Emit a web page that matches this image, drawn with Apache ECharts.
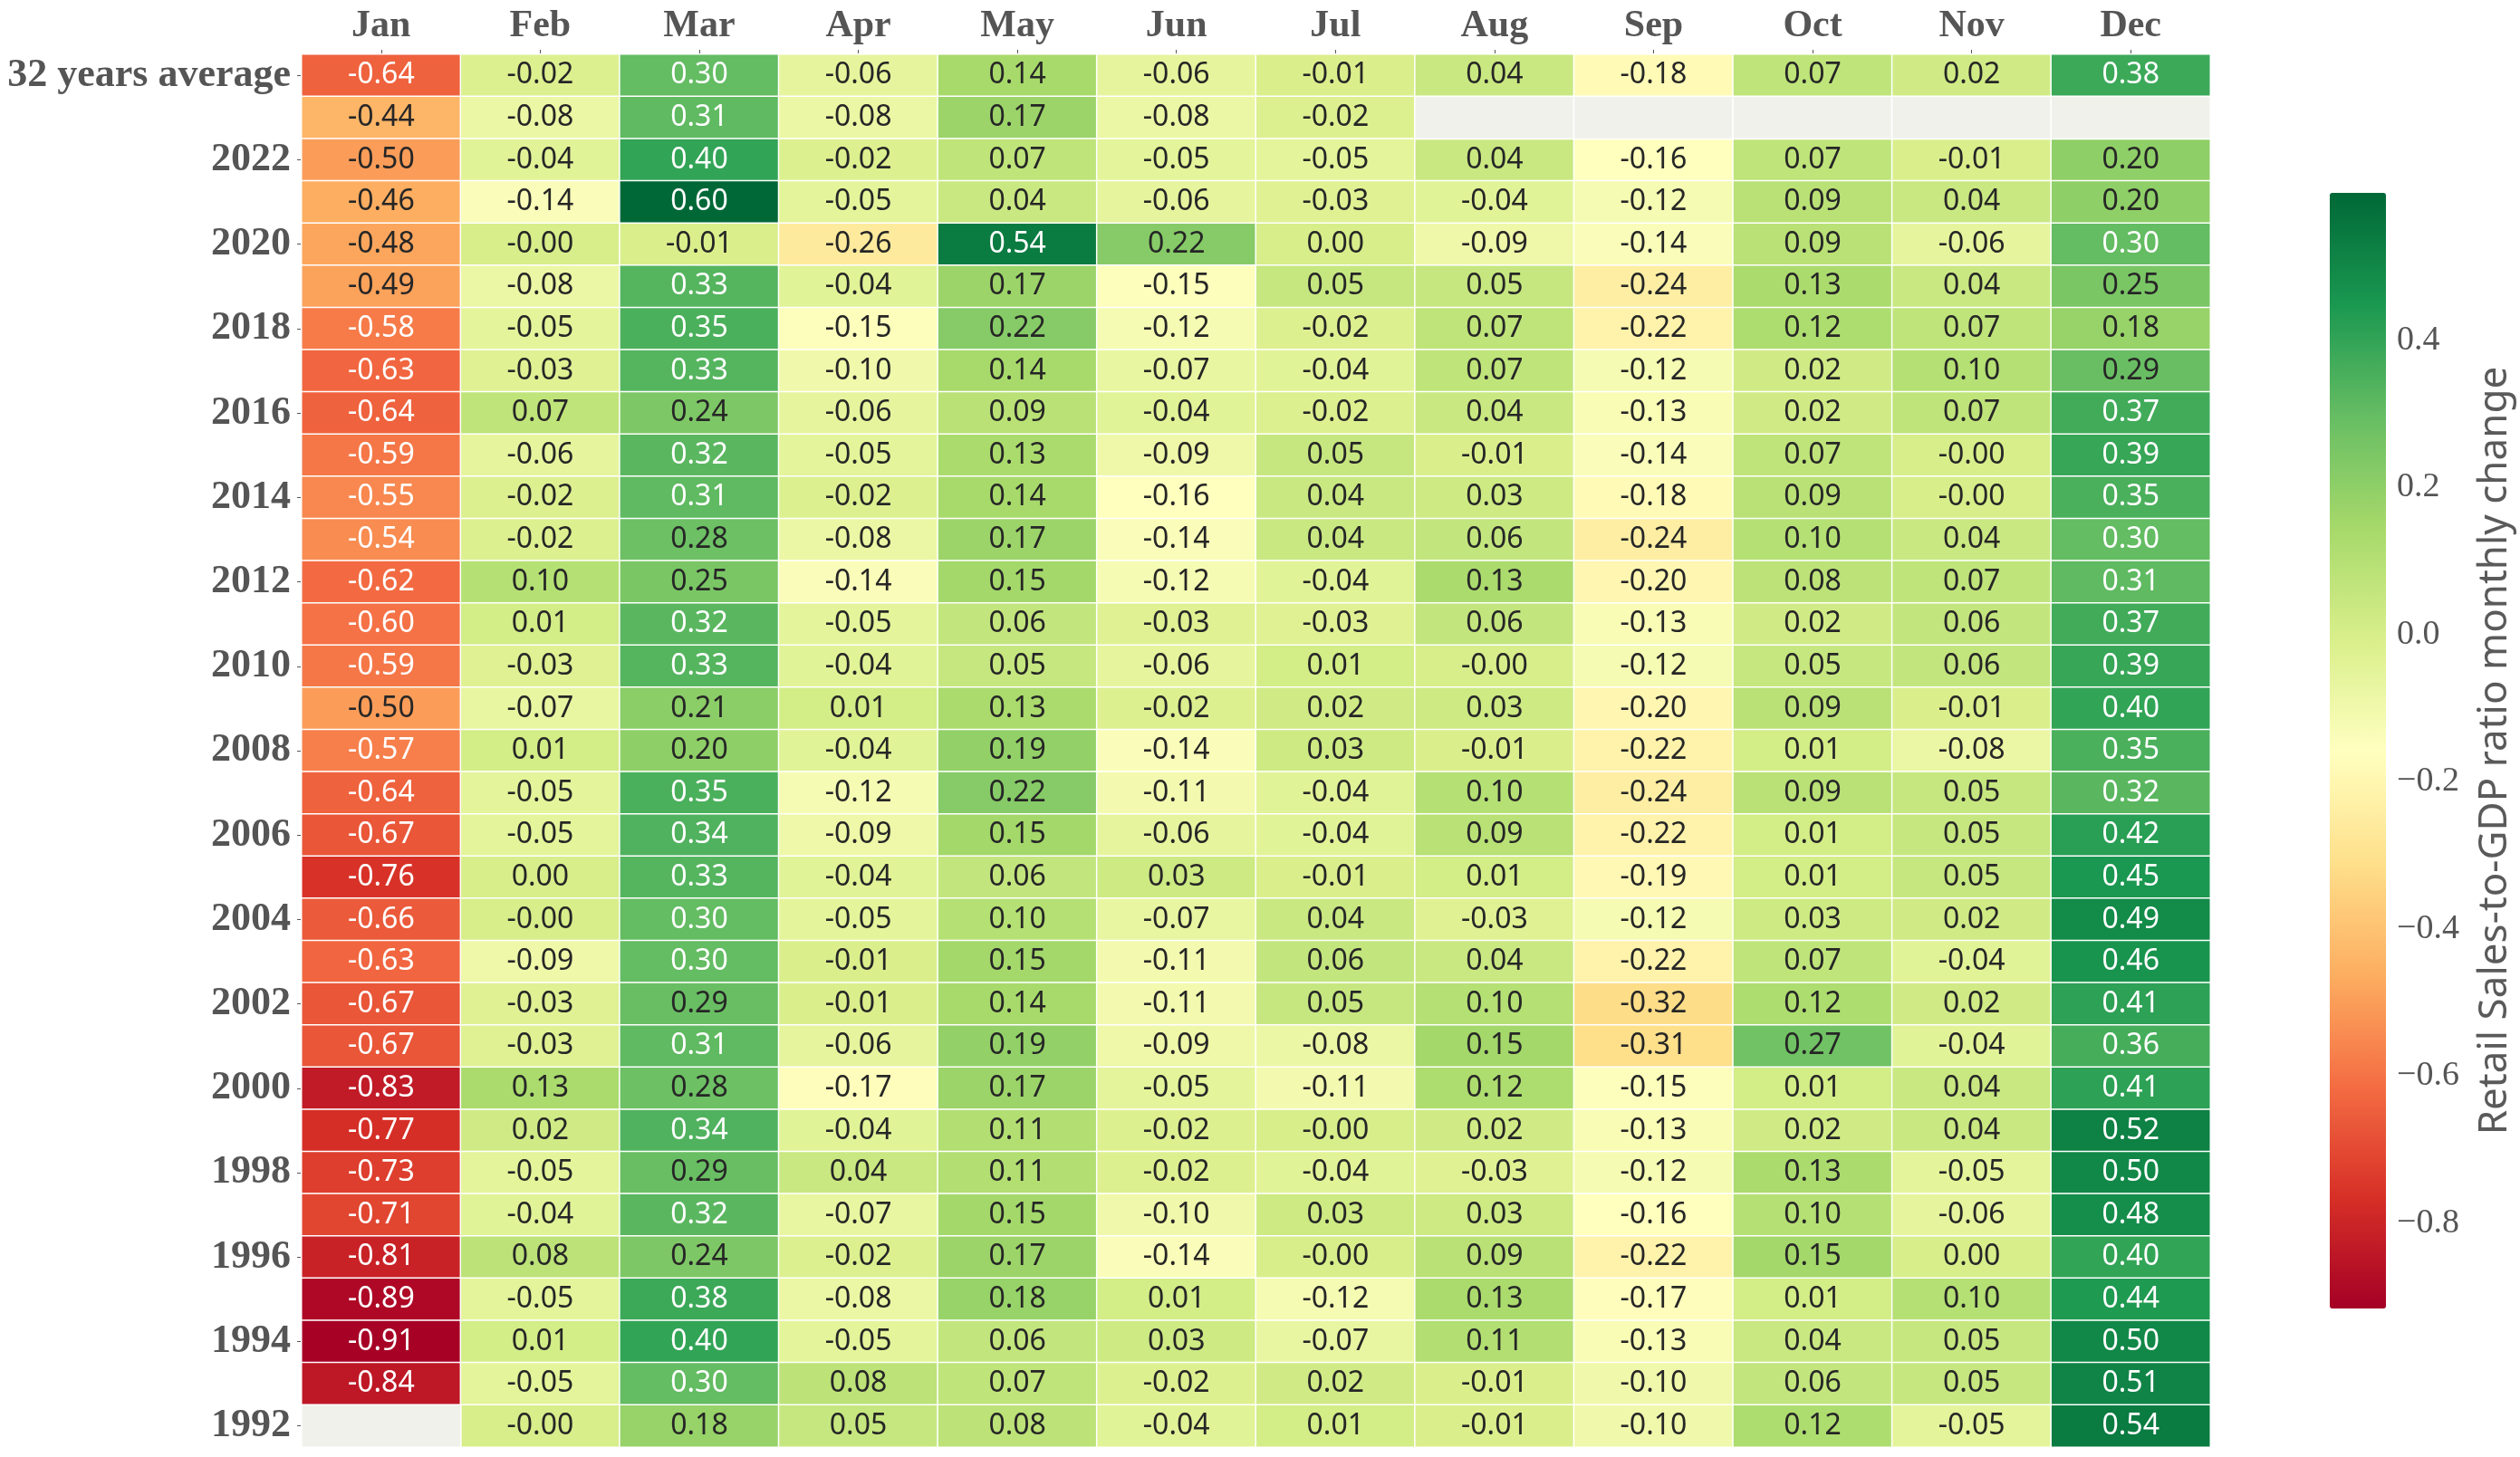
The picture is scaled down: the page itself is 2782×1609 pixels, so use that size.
<!DOCTYPE html>
<html><head><meta charset="utf-8">
<script src="https://cdn.jsdelivr.net/npm/echarts@6/dist/echarts.min.js"></script>
<style>html,body{margin:0;padding:0;background:#fff}#c{width:2782px;height:1609px}</style>
</head><body><div id="c"></div><script>
const months = ['Jan','Feb','Mar','Apr','May','Jun','Jul','Aug','Sep','Oct','Nov','Dec'];
const rowLabels = ['32 years average','2023','2022','2021','2020','2019','2018','2017','2016','2015','2014','2013','2012','2011','2010','2009','2008','2007','2006','2005','2004','2003','2002','2001','2000','1999','1998','1997','1996','1995','1994','1993','1992'];
// each month column, top (32 years average, 2023) to bottom (1992)
const jan = [-0.64,-0.44,-0.50,-0.46,-0.48,-0.49,-0.58,-0.63,-0.64,-0.59,-0.55,-0.54,-0.62,-0.60,-0.59,-0.50,-0.57,-0.64,-0.67,-0.76,-0.66,-0.63,-0.67,-0.67,-0.83,-0.77,-0.73,-0.71,-0.81,-0.89,-0.91,-0.84,null];
const feb = [-0.02,-0.08,-0.04,-0.14,-0.00,-0.08,-0.05,-0.03,0.07,-0.06,-0.02,-0.02,0.10,0.01,-0.03,-0.07,0.01,-0.05,-0.05,0.00,-0.00,-0.09,-0.03,-0.03,0.13,0.02,-0.05,-0.04,0.08,-0.05,0.01,-0.05,-0.00];
const mar = [0.30,0.31,0.40,0.60,-0.01,0.33,0.35,0.33,0.24,0.32,0.31,0.28,0.25,0.32,0.33,0.21,0.20,0.35,0.34,0.33,0.30,0.30,0.29,0.31,0.28,0.34,0.29,0.32,0.24,0.38,0.40,0.30,0.18];
const apr = [-0.06,-0.08,-0.02,-0.05,-0.26,-0.04,-0.15,-0.10,-0.06,-0.05,-0.02,-0.08,-0.14,-0.05,-0.04,0.01,-0.04,-0.12,-0.09,-0.04,-0.05,-0.01,-0.01,-0.06,-0.17,-0.04,0.04,-0.07,-0.02,-0.08,-0.05,0.08,0.05];
const may = [0.14,0.17,0.07,0.04,0.54,0.17,0.22,0.14,0.09,0.13,0.14,0.17,0.15,0.06,0.05,0.13,0.19,0.22,0.15,0.06,0.10,0.15,0.14,0.19,0.17,0.11,0.11,0.15,0.17,0.18,0.06,0.07,0.08];
const jun = [-0.06,-0.08,-0.05,-0.06,0.22,-0.15,-0.12,-0.07,-0.04,-0.09,-0.16,-0.14,-0.12,-0.03,-0.06,-0.02,-0.14,-0.11,-0.06,0.03,-0.07,-0.11,-0.11,-0.09,-0.05,-0.02,-0.02,-0.10,-0.14,0.01,0.03,-0.02,-0.04];
const jul = [-0.01,-0.02,-0.05,-0.03,0.00,0.05,-0.02,-0.04,-0.02,0.05,0.04,0.04,-0.04,-0.03,0.01,0.02,0.03,-0.04,-0.04,-0.01,0.04,0.06,0.05,-0.08,-0.11,-0.00,-0.04,0.03,-0.00,-0.12,-0.07,0.02,0.01];
const aug = [0.04,null,0.04,-0.04,-0.09,0.05,0.07,0.07,0.04,-0.01,0.03,0.06,0.13,0.06,-0.00,0.03,-0.01,0.10,0.09,0.01,-0.03,0.04,0.10,0.15,0.12,0.02,-0.03,0.03,0.09,0.13,0.11,-0.01,-0.01];
const sep = [-0.18,null,-0.16,-0.12,-0.14,-0.24,-0.22,-0.12,-0.13,-0.14,-0.18,-0.24,-0.20,-0.13,-0.12,-0.20,-0.22,-0.24,-0.22,-0.19,-0.12,-0.22,-0.32,-0.31,-0.15,-0.13,-0.12,-0.16,-0.22,-0.17,-0.13,-0.10,-0.10];
const oct = [0.07,null,0.07,0.09,0.09,0.13,0.12,0.02,0.02,0.07,0.09,0.10,0.08,0.02,0.05,0.09,0.01,0.09,0.01,0.01,0.03,0.07,0.12,0.27,0.01,0.02,0.13,0.10,0.15,0.01,0.04,0.06,0.12];
const nov = [0.02,null,-0.01,0.04,-0.06,0.04,0.07,0.10,0.07,-0.00,-0.00,0.04,0.07,0.06,0.06,-0.01,-0.08,0.05,0.05,0.05,0.02,-0.04,0.02,-0.04,0.04,0.04,-0.05,-0.06,0.00,0.10,0.05,0.05,-0.05];
const dec = [0.38,null,0.20,0.20,0.30,0.25,0.18,0.29,0.37,0.39,0.35,0.30,0.31,0.37,0.39,0.40,0.35,0.32,0.42,0.45,0.49,0.46,0.41,0.36,0.41,0.52,0.50,0.48,0.40,0.44,0.50,0.51,0.54];
const colorbarTicks = [-0.8,-0.6,-0.4,-0.2,0.0,0.2,0.4];
const colorMin = -0.916, colorMax = 0.600;

const columns = [jan,feb,mar,apr,may,jun,jul,aug,sep,oct,nov,dec];
const RdYlGn = ['#a50026','#d73027','#f46d43','#fdae61','#fee08b','#ffffbf','#d9ef8b','#a6d96a','#66bd63','#1a9850','#006837'];

function hex2rgb(h){return [1,3,5].map(i=>parseInt(h.substr(i,2),16)/255);}
function cmap(v){
  let t=(v-colorMin)/(colorMax-colorMin); t=Math.max(0,Math.min(1,t));
  const p=t*(RdYlGn.length-1); const i=Math.min(Math.floor(p),RdYlGn.length-2); const f=p-i;
  const a=hex2rgb(RdYlGn[i]), b=hex2rgb(RdYlGn[i+1]);
  return a.map((c,k)=>c+(b[k]-c)*f);
}
function textColor(v){
  const lin=cmap(v).map(c=>c<=0.03928?c/12.92:Math.pow((c+0.055)/1.055,2.4));
  const lum=0.2126*lin[0]+0.7152*lin[1]+0.0722*lin[2];
  return lum>0.408?'#262626':'#ffffff';
}
function fmt(v){const neg=v<0||Object.is(v,-0);return (neg?'-':'')+Math.abs(v).toFixed(2);}

const cells=[], missing=[];
columns.forEach((col,x)=>col.forEach((v,y)=>{
  if(v===null){missing.push([x,y,0]);}
  else cells.push({value:[x,y,v],label:{color:textColor(v)}});
}));

const axisColor='#555555';

const chart=echarts.init(document.getElementById('c'),null,{renderer:'canvas'});
chart.setOption({
  animation:false,
  backgroundColor:'#ffffff',
  grid:[
    {left:333,top:60,width:2107,height:1538,containLabel:false},
    {left:2572,top:213,width:62,height:1232,containLabel:false}
  ],
  xAxis:[
    {type:'category',gridIndex:0,position:'top',data:months,
     axisLine:{show:false},
     axisTick:{show:true,alignWithLabel:true,length:5,lineStyle:{color:axisColor,width:1}},
     axisLabel:{margin:10,fontFamily:'Liberation Serif',fontWeight:'bold',fontSize:42,color:axisColor},
     splitLine:{show:false}},
    {type:'value',gridIndex:1,show:false,min:0,max:1}
  ],
  yAxis:[
    {type:'category',gridIndex:0,inverse:true,data:rowLabels,
     axisLine:{show:false},
     axisTick:{show:true,alignWithLabel:true,interval:1,length:5,lineStyle:{color:axisColor,width:1}},
     axisLabel:{margin:12,interval:1,fontFamily:'Liberation Serif',fontWeight:'bold',fontSize:44,color:axisColor},
     splitLine:{show:false}},
    {type:'value',gridIndex:1,position:'right',min:colorMin,max:colorMax,
     axisLine:{show:false},splitLine:{show:false},
     axisTick:{show:true,length:5,lineStyle:{color:axisColor,width:1},customValues:colorbarTicks},
     axisLabel:{show:true,customValues:colorbarTicks,margin:12,fontFamily:'Liberation Serif',fontSize:38,color:axisColor,
       formatter:v=>(v<0?'\u2212':'')+Math.abs(v).toFixed(1)},
     name:'Retail Sales-to-GDP ratio monthly change',nameLocation:'middle',nameRotate:90,nameGap:98,
     nameTextStyle:{fontFamily:'Noto Sans',fontSize:44,color:'#5a5a5a',fontWeight:'normal'}}
  ],
  visualMap:{type:'continuous',seriesIndex:0,dimension:2,min:colorMin,max:colorMax,
    calculable:false,show:true,orient:'vertical',left:2572,top:213,itemWidth:62,itemHeight:1232,padding:0,
    hoverLink:false,inRange:{color:RdYlGn}},
  series:[
    {type:'heatmap',xAxisIndex:0,yAxisIndex:0,data:cells,
     itemStyle:{borderColor:'#ffffff',borderWidth:1.5},
     label:{show:true,fontFamily:'Noto Sans',fontSize:32,formatter:p=>fmt(p.data.value[2])},
     emphasis:{disabled:true}},
    {type:'heatmap',xAxisIndex:0,yAxisIndex:0,data:missing,
     itemStyle:{color:'#f1f1ec',borderColor:'#ffffff',borderWidth:1.5},
     label:{show:false},emphasis:{disabled:true}},
    {type:'line',xAxisIndex:1,yAxisIndex:1,data:[],silent:true}
  ]
});
</script></body></html>
